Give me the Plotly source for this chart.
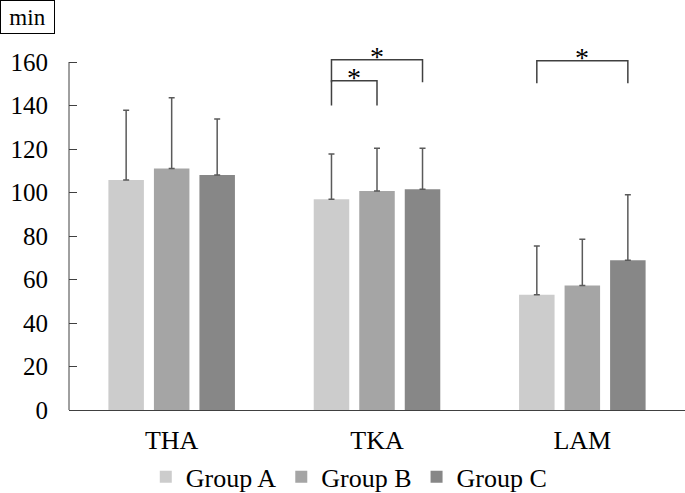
import plotly.graph_objects as go

categories = ["THA", "TKA", "LAM"]
groups = ["Group A", "Group B", "Group C"]
means_a = [105.7, 96.9, 53.0]
means_b = [111.0, 100.7, 57.2]
means_c = [108.0, 101.5, 68.8]
sd_a = [32.1, 20.8, 22.4]
sd_b = [32.6, 19.6, 21.3]
sd_c = [25.8, 18.8, 30.2]
colors = ["#cccccc", "#a5a5a5", "#878787"]
ytick_vals = [0, 20, 40, 60, 80, 100, 120, 140, 160]

# significance brackets: (category index, from group, to group, top level, leg bottom)
brackets = [
    (1, 0, 2, 161.0, 150.7),
    (1, 0, 1, 151.4, 140.0),
    (2, 0, 2, 160.6, 150.2),
]

FONT = "Liberation Serif"
BARGAP = 0.335
BARGROUPGAP = 0.22

fig = go.Figure()
for name, means, sds, col in zip(groups, [means_a, means_b, means_c],
                                 [sd_a, sd_b, sd_c], colors):
    fig.add_trace(go.Bar(
        x=categories, y=means, name=name,
        marker=dict(color=col, line=dict(width=0)),
        error_y=dict(type="data", array=sds, arrayminus=[0] * len(sds),
                     symmetric=False, color="#5a5a5a", thickness=1.5, width=3),
    ))

slot = (1 - BARGAP) / 3
shapes = []
annotations = []
for ci, g0, g1, top, bottom in brackets:
    xa = ci + (g0 - 1) * slot
    xb = ci + (g1 - 1) * slot
    shapes.append(dict(type="path", xref="x", yref="y",
                       path=f"M {xa},{bottom} L {xa},{top} L {xb},{top} L {xb},{bottom}",
                       line=dict(color="#404040", width=1.5)))
    annotations.append(dict(x=(xa + xb) / 2, y=top, xref="x", yref="y",
                            text="*", showarrow=False, yanchor="bottom",
                            yshift=-14,
                            font=dict(family=FONT, size=28, color="black")))

# y axis line from 0 to 160 only
shapes.append(dict(type="line", xref="paper", yref="y", x0=0, x1=0,
                   y0=0, y1=ytick_vals[-1], line=dict(color="#404040", width=1)))

annotations.append(dict(x=-69 / 616, y=1, xref="paper", yref="paper",
                        xanchor="left", yanchor="top", text="min",
                        showarrow=False, width=53, height=32, borderpad=0,
                        bordercolor="black", borderwidth=1,
                        font=dict(family=FONT, size=23, color="black")))

fig.update_layout(
    width=685, height=493,
    margin=dict(l=69, r=0, t=0, b=83, autoexpand=False),
    paper_bgcolor="white", plot_bgcolor="white",
    barmode="group", bargap=BARGAP, bargroupgap=BARGROUPGAP,
    font=dict(family=FONT, color="black"),
    shapes=shapes, annotations=annotations,
    showlegend=True,
    legend=dict(orientation="h", x=0.455, xanchor="center", y=-0.163,
                yanchor="middle", font=dict(family=FONT, size=26),
                itemsizing="constant"),
    xaxis=dict(range=[-0.5, 2.5], showline=True, linecolor="#404040",
               linewidth=1, ticks="", showgrid=False, automargin=False,
               tickfont=dict(family=FONT, size=26), ticklabelstandoff=7),
    yaxis=dict(range=[0, 410 / 2.175], tickvals=ytick_vals, showline=False,
               ticks="inside", ticklen=8, tickcolor="#404040", showgrid=False,
               zeroline=False, automargin=False,
               tickfont=dict(family=FONT, size=25), ticklabelstandoff=20),
)

fig.write_html("out.html", config={"displayModeBar": False},
               post_script="document.body.style.margin='0';")
